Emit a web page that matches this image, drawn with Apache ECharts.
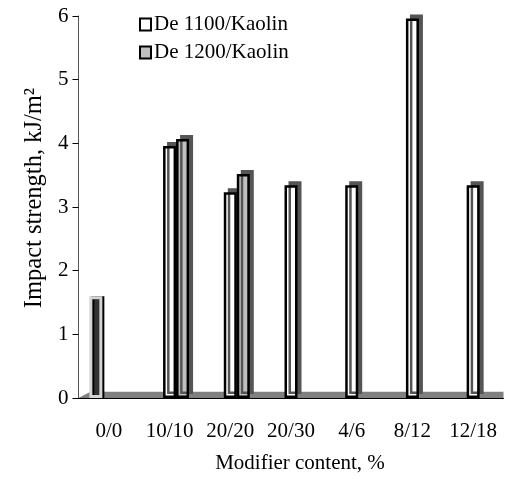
<!DOCTYPE html>
<html><head><meta charset="utf-8">
<script src="https://cdn.jsdelivr.net/npm/echarts/dist/echarts.min.js"></script>
<style>html,body{margin:0;padding:0;background:#fff}#c{width:507px;height:479px}</style>
</head><body><div id="c"></div>
<script>
const categories = ['0/0', '10/10', '20/20', '20/30', '4/6', '8/12', '12/18'];
const controlValues = [1.6, null, null, null, null, null, null];
const de1100Values = [null, 3.96, 3.23, 3.34, 3.34, 5.96, 3.34];
const de1200Values = [null, 4.07, 3.52, null, null, null, null];
const seriesNames = ['De 1100/Kaolin', 'De 1200/Kaolin'];
const floorHeight = 0.1;
const floorOutline = [[0, 0], [0.028, floorHeight], [1, floorHeight]];
const yMin = 0, yMax = 6, yStep = 1;

const FONT = 'Liberation Serif';
const chart = echarts.init(document.getElementById('c'), null, {renderer: 'canvas'});
const shadow = {shadowColor: '#555', shadowBlur: 0, shadowOffsetX: 4, shadowOffsetY: -4};

chart.setOption({
  animation: false,
  backgroundColor: '#fff',
  textStyle: {fontFamily: FONT, color: '#000'},
  grid: {left: 78.5, right: 3.5, top: 16, bottom: 71},
  legend: {
    data: seriesNames,
    orient: 'vertical',
    left: 134, top: 9,
    itemWidth: 11, itemHeight: 12, itemGap: 7,
    icon: 'rect',
    textStyle: {fontFamily: FONT, fontSize: 21, color: '#000', padding: [0, 0, 0, -2]},
    itemStyle: {borderColor: '#000', borderWidth: 2, shadowColor: 'rgba(0,0,0,0)', shadowOffsetX: 0, shadowOffsetY: 0}
  },
  xAxis: [{
    type: 'category',
    data: categories,
    axisLine: {lineStyle: {color: '#000', width: 1}},
    axisTick: {show: false},
    axisLabel: {fontFamily: FONT, fontSize: 21, color: '#000', margin: 23, interval: 0},
    name: 'Modifier content, %',
    nameLocation: 'middle',
    nameGap: 55,
    nameTextStyle: {fontFamily: FONT, fontSize: 21, color: '#000', padding: [0, 0, 0, 18]}
  }, {
    type: 'value', min: 0, max: 1, show: false
  }],
  yAxis: {
    type: 'value',
    min: yMin, max: yMax, interval: yStep,
    splitLine: {show: false},
    axisLine: {show: true, lineStyle: {color: '#555', width: 1}},
    axisTick: {show: true, length: 6, lineStyle: {color: '#000'}},
    axisLabel: {fontFamily: FONT, fontSize: 21, color: '#000', margin: 10},
    name: 'Impact strength, kJ/m²',
    nameLocation: 'middle',
    nameGap: 31,
    nameTextStyle: {fontFamily: FONT, fontSize: 24.5, color: '#000', padding: [0, 0, 0, 18]}
  },
  series: [
    {
      name: 'floor', type: 'line', xAxisIndex: 1, z: 1, silent: true,
      data: floorOutline, symbol: 'none',
      lineStyle: {width: 0},
      areaStyle: {color: '#808080', origin: 'start', opacity: 1}
    },
    {
      name: 'Control', type: 'bar', z: 3, barWidth: 13, barGap: '0%',
      data: controlValues,
      itemStyle: {color: '#333', borderColor: '#d4d4d4', borderWidth: 3, shadowColor: '#000', shadowBlur: 0, shadowOffsetX: 2, shadowOffsetY: 0}
    },
    {
      name: seriesNames[0], type: 'bar', z: 3, barWidth: 13, barGap: '0%',
      data: de1100Values,
      itemStyle: Object.assign({color: '#fff', borderColor: '#000', borderWidth: 2.5}, shadow)
    },
    {
      name: seriesNames[1], type: 'bar', z: 3, barWidth: 13, barGap: '0%',
      data: de1200Values,
      itemStyle: Object.assign({color: '#c0c0c0', borderColor: '#000', borderWidth: 2.5}, shadow)
    }
  ]
});
</script></body></html>
